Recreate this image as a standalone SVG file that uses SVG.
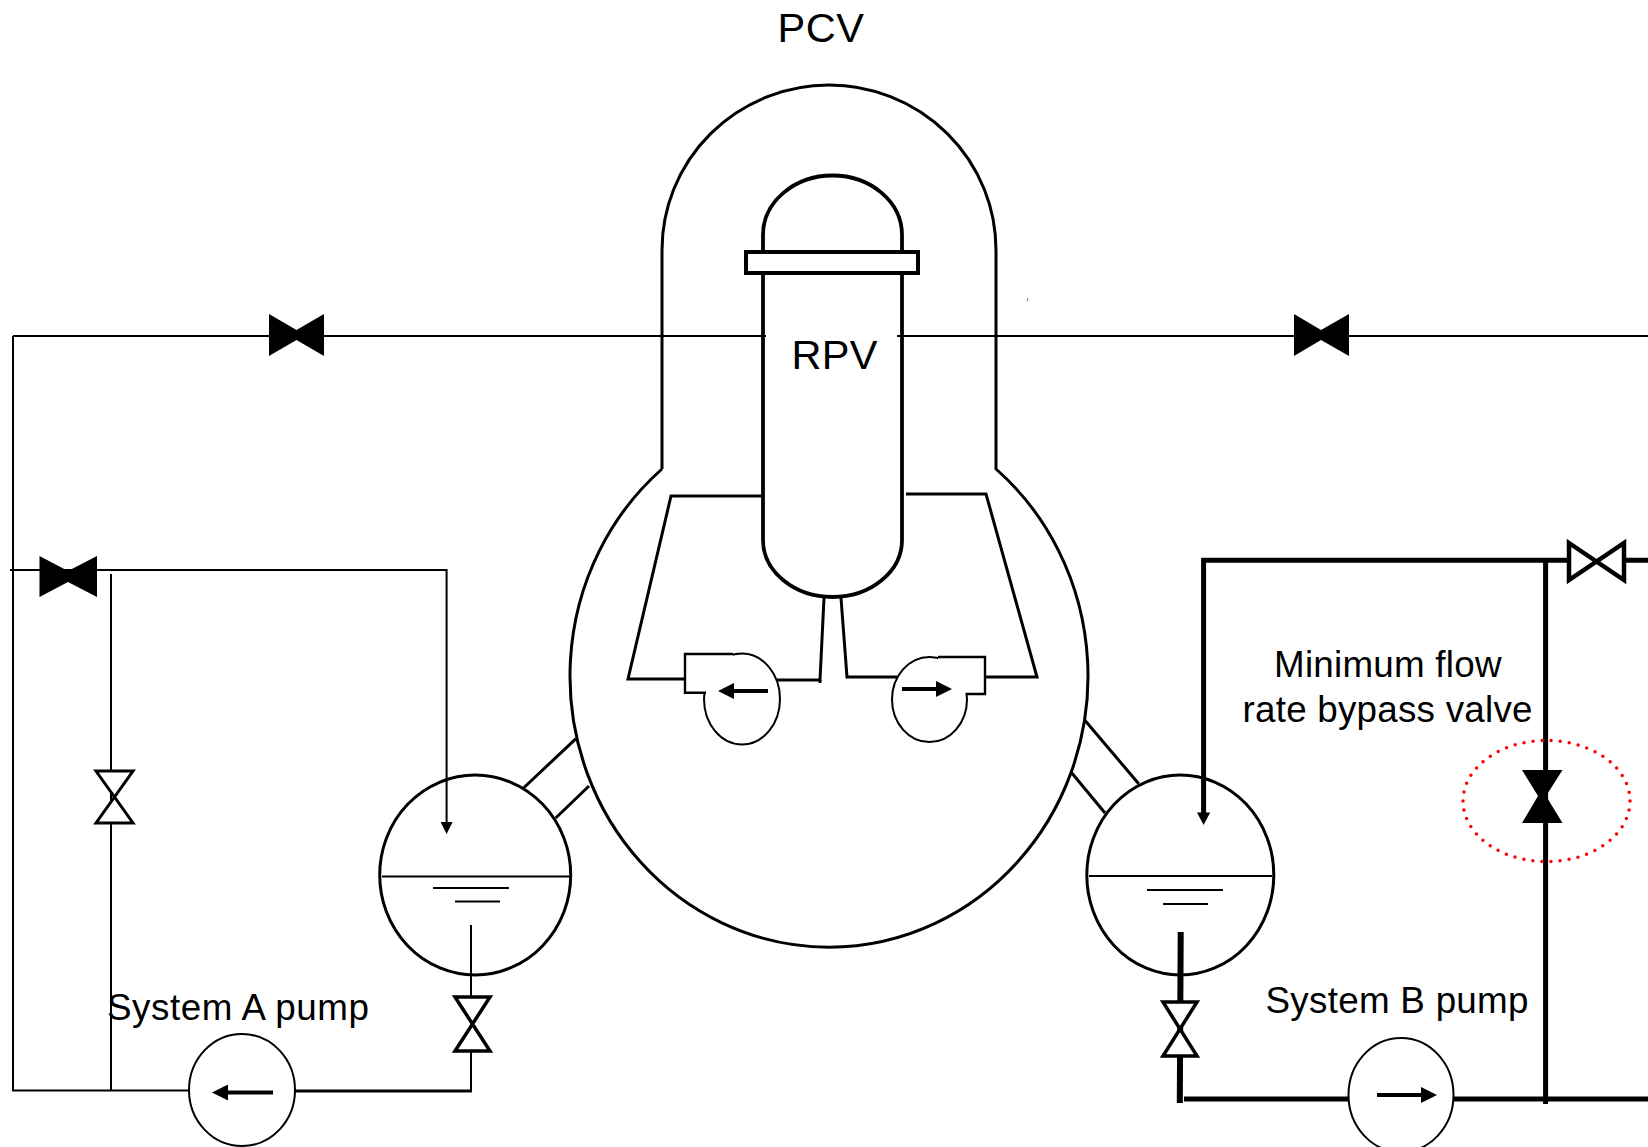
<svg xmlns="http://www.w3.org/2000/svg" width="1648" height="1147" viewBox="0 0 1648 1147">
<style>
.s{fill:none;stroke:#000;stroke-width:3}
.r{fill:none;stroke:#000;stroke-width:3.8}
.t2{fill:none;stroke:#000;stroke-width:2}
.t3{fill:none;stroke:#000;stroke-width:3}
.b{fill:none;stroke:#000;stroke-width:2.4}
.t5{fill:none;stroke:#000;stroke-width:5}
.t6{fill:none;stroke:#000;stroke-width:6}
.p{fill:#fff;stroke:#000;stroke-width:2}
.ar{fill:none;stroke:#000;stroke-width:4}
.vo{fill:#fff;stroke:#000;stroke-width:3.5}
.vo3{fill:#fff;stroke:#000;stroke-width:3}
.vo4{fill:#fff;stroke:#000;stroke-width:4.5}
.vf{fill:#000;stroke:none}
.txt{font-family:"Liberation Sans",Arial,sans-serif;font-size:36.8px;fill:#000}
.big{font-size:41.5px}
</style>
<defs>
<marker id="head" viewBox="0 0 16 16" refX="8" refY="8" markerWidth="16" markerHeight="16" markerUnits="userSpaceOnUse" orient="auto"><path d="M0 0L16 8L0 16Z" fill="#000"/></marker>
<marker id="headS" viewBox="0 0 12 12" refX="4" refY="6" markerWidth="12" markerHeight="12" markerUnits="userSpaceOnUse" orient="auto"><path d="M0 0L12 6L0 12Z" fill="#000"/></marker>
</defs>
<rect width="1648" height="1147" fill="#fff"/>

<g id="connectors">
<path class="t2" d="M13 336H766M897 336H1294M1349 336H1648"/>
<path class="t2" d="M13 336V1090.5H189"/>
<path class="t2" d="M10 570H446.6V826" marker-end="url(#headS)"/>
<path class="t2" d="M111 574V1090.5"/>
<path class="t2" d="M471 925V1091"/>
<path class="t3" d="M295 1091H472"/>
<path class="t5" d="M1203.6 815V560.3H1568M1624 560.3H1648"/>
<path d="M1197 812.6H1210.2L1203.6 825Z" fill="#000"/>
<path class="t5" d="M1545.6 560V1104"/>
<path class="t5" d="M1184 1099H1648"/>
<path class="t6" d="M1180.7 932L1179.8 1103"/>
<path class="t3" d="M523.5 788L576 738.6M555.7 818L589 786"/>
<path class="t3" d="M1084.4 719.7L1138.7 783.8M1071 772L1105 813"/>
<path class="t3" d="M763 496H671L628 679H685M777 680H820L824 598"/>
<path class="t3" d="M820 683V680"/>
<path class="t3" d="M906 494H986L1037 677H985M897 677H847L841 598"/>
</g>

<g id="pcv">
<path class="s" d="M662 469V250A167 165 0 0 1 996 250V469A259 271 0 1 1 662 469"/>
<text class="txt big" x="777.500" y="42" textLength="86.500">PCV</text>
</g>

<g id="rpv">
<path class="r" d="M763 252V235A69.500 59.500 0 0 1 902 235V252"/>
<path class="r" d="M763 273V540A69.500 57 0 0 0 902 540V273"/>
<rect x="746" y="252" width="172" height="21" fill="#fff" stroke="#000" stroke-width="4"/>
<text class="txt big" x="791.500" y="369" textLength="86">RPV</text>
</g>

<g id="jet-pump-left">
<ellipse class="p" cx="742" cy="699" rx="38" ry="45.500"/>
<path fill="#fff" d="M686 655H733V692H686Z"/>
<path class="b" d="M733 654H685V692.700H706"/>
<path class="ar" d="M768 691H726" marker-end="url(#head)"/>
</g>

<g id="jet-pump-right">
<ellipse class="p" cx="929.500" cy="699.500" rx="37.500" ry="42.500"/>
<path fill="#fff" d="M938 658H984V693H938Z"/>
<path class="b" d="M938 657H985V694H966"/>
<path class="ar" d="M902 689H944" marker-end="url(#head)"/>
</g>

<g id="tank-a">
<ellipse class="s" cx="475.200" cy="875" rx="95.500" ry="100"/>
<path class="t2" d="M382 876.500H570M433 888H509M455 901.600H500"/>
</g>

<g id="tank-b">
<ellipse class="s" cx="1180.300" cy="875" rx="93.500" ry="100"/>
<path class="t2" d="M1089 876H1272M1147 890H1223M1163 904H1208"/>
</g>

<g id="pump-a">
<ellipse class="p" cx="242" cy="1090" rx="53" ry="56"/>
<path class="ar" d="M273 1092.500H220" marker-end="url(#head)"/>
<text class="txt" x="107" y="1020" textLength="262">System A pump</text>
</g>

<g id="pump-b">
<ellipse class="p" cx="1401" cy="1095" rx="52.500" ry="57"/>
<path class="ar" d="M1377 1095H1429" marker-end="url(#head)"/>
<text class="txt" x="1265.500" y="1013" textLength="263">System B pump</text>
</g>

<g id="valve-main-left"><path class="vf" d="M269 314L296.500 330V340L269 356ZM324 314L296.500 330V340L324 356Z"/></g>
<g id="valve-main-right"><path class="vf" d="M1294 314L1321 330V340L1294 356ZM1349 314L1321 330V340L1349 356Z"/></g>
<g id="valve-a-top"><path class="vf" d="M39.500 556L68 571V582L39.500 597ZM97 556L68 571V582L97 597Z"/></g>
<g id="valve-a-branch"><path class="vo3" d="M96 771H133L96 823H133Z"/></g>
<g id="valve-a-suction"><path class="vo" d="M455 997H490L455 1051H490Z"/></g>
<g id="valve-b-suction"><path class="vo" d="M1163 1002H1197L1163 1056H1197Z"/></g>
<g id="valve-b-top"><path class="vo4" d="M1569 543L1624 580V543L1569 580Z"/></g>
<g id="valve-bypass"><path class="vf" d="M1522 770H1562.500L1546 796H1538ZM1522 823H1562.500L1546 796H1538Z"/></g>

<g id="bypass-highlight">
<ellipse cx="1546.500" cy="801" rx="83.500" ry="60.600" fill="none" stroke="#f00" stroke-width="3.500" stroke-linecap="round" stroke-dasharray="0 9.100"/>
<text class="txt" x="1274" y="677" textLength="227.500">Minimum flow</text>
<text class="txt" x="1242.500" y="721.500" textLength="290">rate bypass valve</text>
</g>

<path d="M1027 301L1028 298" stroke="#777" stroke-width="1" fill="none"/>
</svg>
